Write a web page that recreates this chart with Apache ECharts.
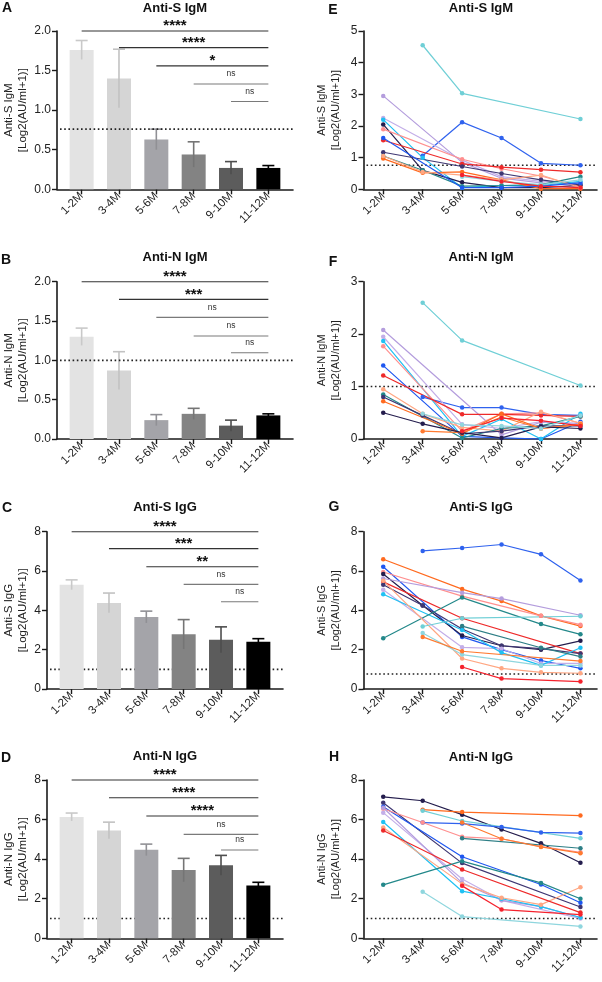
<!DOCTYPE html>
<html><head><meta charset="utf-8">
<script src="https://cdn.jsdelivr.net/npm/echarts@6/dist/echarts.min.js"></script>
<style>html,body{margin:0;padding:0;background:#fff}#c{width:602px;height:982px}</style>
</head><body><div id="c"></div>
<script>
// ---------------- DATA ----------------
const categories = ['1-2M','3-4M','5-6M','7-8M','9-10M','11-12M'];

// bar panels (mean, SEM)
const antiS_IgM_mean = [1.76,1.40,0.63,0.44,0.27,0.27];
const antiS_IgM_sem  = [0.12,0.37,0.13,0.16,0.08,0.03];
const antiN_IgM_mean = [1.30,0.87,0.24,0.32,0.17,0.30];
const antiN_IgM_sem  = [0.11,0.24,0.07,0.07,0.07,0.02];
const antiS_IgG_mean = [5.30,4.38,3.66,2.78,2.50,2.40];
const antiS_IgG_sem  = [0.25,0.50,0.30,0.75,0.66,0.16];
const antiN_IgG_mean = [6.13,5.45,4.47,3.45,3.69,2.67];
const antiN_IgG_sem  = [0.20,0.42,0.29,0.59,0.50,0.16];

// cutoff levels
const cutoffA = 0.76, cutoffB = 1.0, cutoffC = 1.0, cutoffD = 1.0;
const cutoffE = 0.76, cutoffF = 1.0, cutoffG = 0.76, cutoffH = 1.0;

// significance brackets (start group index -> last group), height, label
const bracketFrom = [0,1,2,3,4];
const bracketA_y = [2.0,1.79,1.56,1.33,1.11];
const bracketA_lab = ['****','****','*','ns','ns'];
const bracketB_y = [2.0,1.775,1.547,1.31,1.097];
const bracketB_lab = ['****','***','ns','ns','ns'];
const bracketC_y = [8.0,7.14,6.22,5.32,4.44];
const bracketC_lab = ['****','***','**','ns','ns'];
const bracketD_y = [8.0,7.10,6.18,5.25,4.46];
const bracketD_lab = ['****','****','****','ns','ns'];

// individual trajectories: [subjectIndex, values per category]
const linesE = [
  [0,[null,4.55,3.03,null,null,2.22]],
  [1,[null,1.06,2.12,1.62,0.82,0.76]],
  [2,[2.95,null,0.85,0.35,0.20,0.10]],
  [3,[2.25,null,0.92,0.40,0.25,0.20]],
  [4,[2.20,1.00,0.05,0.12,0.12,0.25]],
  [5,[2.05,0.60,0.22,0.05,0.05,0.12]],
  [6,[1.90,null,0.95,0.65,0.42,0.08]],
  [7,[1.55,null,0.80,0.70,0.62,0.54]],
  [8,[1.17,null,0.72,0.50,0.30,0.14]],
  [9,[1.05,0.60,0.10,0.12,0.15,0.40]],
  [10,[0.97,0.52,0.55,0.30,0.02,0.02]],
  [11,[1.05,0.55,0.45,0.30,0.45,0.05]],
  [12,[1.62,null,0.05,0.05,0.10,0.20]],
  [13,[null,null,0.40,0.25,0.15,0.30]],
  [15,[null,null,0.45,0.25,0.10,0.05]]
];
const linesF = [
  [0,[null,2.60,1.88,null,null,1.02]],
  [1,[null,0.80,0.60,0.60,0.47,0.45]],
  [12,[1.40,null,0.05,0.02,0.00,0.33]],
  [2,[2.08,null,null,0.08,0.32,0.30]],
  [3,[1.95,null,0.28,0.20,0.33,0.28]],
  [4,[1.87,null,0.05,0.38,0.00,0.48]],
  [6,[1.77,null,0.15,0.48,0.50,0.30]],
  [7,[1.21,null,0.47,0.47,0.45,0.43]],
  [11,[0.95,0.48,0.22,0.15,0.52,0.30]],
  [9,[0.85,null,0.02,0.20,0.25,0.43]],
  [8,[0.80,0.45,0.10,0.15,0.25,0.25]],
  [10,[0.72,null,0.10,0.48,0.20,0.28]],
  [14,[null,0.15,0.12,0.42,0.20,0.28]],
  [5,[0.50,0.29,0.12,0.02,0.23,0.20]],
  [15,[null,null,0.15,0.40,0.35,0.25]],
  [13,[null,0.48,0.27,0.25,0.20,0.45]]
];
const linesG = [
  [1,[null,7.02,7.17,7.35,6.85,5.52]],
  [10,[6.60,null,5.08,4.47,3.72,3.20]],
  [12,[6.22,null,2.65,2.00,1.45,1.05]],
  [6,[5.95,null,4.72,null,3.72,3.27]],
  [5,[5.85,4.25,2.72,2.20,2.00,2.45]],
  [2,[5.62,null,4.90,4.60,null,3.75]],
  [7,[5.45,null,3.60,null,null,1.80]],
  [8,[5.30,4.25,3.05,2.20,2.05,1.80]],
  [3,[5.05,null,2.12,2.05,1.30,1.30]],
  [4,[4.82,null,3.00,1.85,1.20,2.10]],
  [9,[2.58,null,4.65,null,3.30,2.78]],
  [11,[5.50,null,1.55,1.05,0.85,0.80]],
  [0,[null,3.18,3.60,null,null,3.70]],
  [13,[null,2.85,1.75,null,1.20,1.20]],
  [14,[null,2.65,1.92,null,null,1.42]],
  [15,[null,null,1.12,0.53,null,0.38]],
  [16,[null,null,3.20,null,2.10,1.65]]
];
const linesH = [
  [5,[7.15,6.95,6.25,5.50,4.80,3.82]],
  [10,[null,6.50,6.38,null,null,6.20]],
  [0,[null,6.45,5.93,null,null,5.05]],
  [1,[null,5.85,5.80,5.62,5.35,5.32]],
  [8,[6.85,null,3.80,null,null,1.58]],
  [12,[6.65,null,4.12,null,2.72,1.80]],
  [6,[6.55,5.85,5.13,5.03,4.63,4.35]],
  [3,[6.35,null,3.00,1.92,null,1.00]],
  [2,[6.60,null,2.80,1.92,1.60,1.05]],
  [4,[5.88,null,2.38,2.00,1.60,1.05]],
  [11,[5.60,null,2.75,2.05,1.70,2.58]],
  [7,[5.45,null,3.48,null,null,1.30]],
  [15,[null,null,2.65,1.45,null,1.20]],
  [9,[2.70,null,3.90,null,2.80,2.00]],
  [16,[null,null,5.05,null,null,4.55]],
  [14,[null,null,5.85,5.03,4.62,4.30]],
  [13,[null,2.35,1.10,null,null,0.60]]
];

// ---------------- STYLE ----------------
const FONT = 'Liberation Sans, Arial, Helvetica, sans-serif';
const INK = '#1a1a1a';
const barColors = ['#e3e3e3','#d5d5d5','#a4a4a9','#838383','#5c5c5c','#000000'];
const errColors = ['#c9c9c9','#c2c2c2','#909095','#757575','#4e4e4e','#000000'];
const subjectColors = ['#6fcfd6','#2f62ee','#b49ddd','#c3aee8','#1fc1f3','#241d4d','#ff8f8f','#ee2a2a',
  '#3e3672','#23888a','#ff6a1f','#ffa783','#1e57f0','#8fd6de','#ff7a30','#f5222d','#2e7f86'];

const grids = [
  {left:57, top:31, width:236, height:158.3},
  {left:57, top:281.7, width:236, height:157.3},
  {left:47, top:531.7, width:236, height:157.3},
  {left:47, top:780, width:236, height:158.3},
  {left:363.5, top:31, width:233.5, height:158.3},
  {left:363.5, top:281.7, width:233.5, height:157.3},
  {left:363.5, top:531.7, width:233.5, height:157.3},
  {left:363.5, top:780, width:233.5, height:158.3}
];
const tickIdx = categories.map((c,i)=>i);

function xAxisCfg(gi, min, max){
  return {type:'value', gridIndex:gi, min, max,
    axisLine:{show:true, onZero:false, lineStyle:{color:INK, width:1.6}},
    axisTick:{show:true, customValues:tickIdx, length:5, lineStyle:{color:INK, width:1.4}},
    axisLabel:{show:true, customValues:tickIdx, formatter:v=>categories[Math.round(v)], rotate:45,
      fontSize:11.5, color:'#222', margin:5, fontFamily:FONT},
    splitLine:{show:false}};
}
function yAxisCfg(gi, max, interval, name, gap, dec, nsize){
  return {type:'value', gridIndex:gi, min:0, max, interval, name, nameLocation:'middle', nameRotate:90, nameGap:gap,
    nameTextStyle:{fontSize:nsize, lineHeight:14.5, color:'#222', fontFamily:FONT},
    axisLine:{show:true, onZero:false, lineStyle:{color:INK, width:1.6}},
    axisTick:{show:true, length:5, lineStyle:{color:INK, width:1.4}},
    axisLabel:{fontSize:12, color:'#222', margin:6, fontFamily:FONT, formatter:v=>v.toFixed(dec)},
    splitLine:{show:false}};
}

const xAxes = [], yAxes = [], series = [];
const barSpecs = [
  [antiS_IgM_mean, antiS_IgM_sem, cutoffA, bracketA_y, bracketA_lab, 2.0, 0.5, 'Anti-S IgM', 1, 26, 9],
  [antiN_IgM_mean, antiN_IgM_sem, cutoffB, bracketB_y, bracketB_lab, 2.0, 0.5, 'Anti-N IgM', 1, 26, 9],
  [antiS_IgG_mean, antiS_IgG_sem, cutoffC, bracketC_y, bracketC_lab, 8, 2, 'Anti-S IgG', 0, 15, 1],
  [antiN_IgG_mean, antiN_IgG_sem, cutoffD, bracketD_y, bracketD_lab, 8, 2, 'Anti-N IgG', 0, 15, 1]
];
function cutoffSeries(gi, val, z){
  return {type:'custom', xAxisIndex:gi, yAxisIndex:gi, z, silent:true, animation:false, clip:false,
    data:[[0,val]],
    renderItem(params, api){
      const cs = params.coordSys;
      const p = api.coord([0, api.value(1)]);
      return {type:'line', shape:{x1:cs.x+3, y1:p[1], x2:cs.x+cs.width, y2:p[1]},
        style:{stroke:'#222', lineWidth:1.6, lineDash:[1.6,2.6]}};
    }};
}
barSpecs.forEach((s, gi)=>{
  const [mean, sem, cut, by, blab, ymax, yint, nm, dec, gap, cutZ] = s;
  xAxes.push(xAxisCfg(gi, -0.66, 5.66));
  yAxes.push(yAxisCfg(gi, ymax, yint, nm + '\n[Log2(AU/ml+1)]', gap, dec, 11.5));
  series.push({type:'bar', xAxisIndex:gi, yAxisIndex:gi, barWidth:24, animation:false, z:2,
    data: mean.map((v,i)=>({value:[i,v], itemStyle:{color:barColors[i]}}))});
  series.push({type:'custom', xAxisIndex:gi, yAxisIndex:gi, z:4, animation:false, clip:false,
    data: mean.map((v,i)=>[i,v,sem[i]]),
    renderItem(params, api){
      const x = api.value(0), m = api.value(1), e = api.value(2);
      const t = api.coord([x, m+e]), b = api.coord([x, m-e]);
      const col = errColors[params.dataIndex];
      return {type:'group', children:[
        {type:'line', shape:{x1:t[0], y1:t[1], x2:b[0], y2:b[1]}, style:{stroke:col, lineWidth:1.6}},
        {type:'line', shape:{x1:t[0]-6, y1:t[1], x2:t[0]+6, y2:t[1]}, style:{stroke:col, lineWidth:1.6}}
      ]};
    }});
  series.push(cutoffSeries(gi, cut, cutZ));
  series.push({type:'custom', xAxisIndex:gi, yAxisIndex:gi, z:5, animation:false, clip:false,
    data: bracketFrom.map((f,i)=>[f, by[i]]),
    renderItem(params, api){
      const f = api.value(0), y = api.value(1);
      const lab = blab[params.dataIndex];
      const p1 = api.coord([f, y]), p2 = api.coord([5, y]);
      const ns = lab === 'ns';
      const cx = (p1[0]+p2[0])/2;
      return {type:'group', children:[
        {type:'line', shape:{x1:p1[0], y1:p1[1], x2:p2[0], y2:p2[1]}, style:{stroke: ns ? '#7a7a7a' : '#333', lineWidth:1.1}},
        {type:'text', x:cx, y: ns ? p1[1]-10 : p1[1]-5,
          style:{text:lab, fill: ns ? '#333' : '#111', font: ns ? '8.5px ' + FONT : 'bold 15px ' + FONT,
            align:'center', verticalAlign:'middle', textAlign:'center', textVerticalAlign:'middle'}}
      ]};
    }});
});

const lineSpecs = [
  [linesE, cutoffE, 5, 1, 'Anti-S IgM'],
  [linesF, cutoffF, 3, 1, 'Anti-N IgM'],
  [linesG, cutoffG, 8, 2, 'Anti-S IgG'],
  [linesH, cutoffH, 8, 2, 'Anti-N IgG']
];
lineSpecs.forEach((s, k)=>{
  const gi = k + 4;
  const [lines, cut, ymax, yint, nm] = s;
  xAxes.push(xAxisCfg(gi, -0.5, 5.42));
  yAxes.push(yAxisCfg(gi, ymax, yint, nm + '\n[Log2(AU/ml+1)]', 20, 0, 11));
  series.push(cutoffSeries(gi, cut, 1));
  lines.forEach(([sid, vals])=>{
    const col = subjectColors[sid];
    series.push({type:'line', xAxisIndex:gi, yAxisIndex:gi, animation:false, silent:true, clip:false, z:3,
      data: vals.map((v,i)=> v==null ? null : [i,v]).filter(d=>d),
      symbol:'circle', symbolSize:4.5, showSymbol:true,
      lineStyle:{width:1.2, color:col}, itemStyle:{color:col}});
  });
});

// panel titles and letters
const titleTexts = ['Anti-S IgM','Anti-N IgM','Anti-S IgG','Anti-N IgG','Anti-S IgM','Anti-N IgM','Anti-S IgG','Anti-N IgG'];
const panelLetters = ['A','B','C','D','E','F','G','H'];
const titlePos = [[175,8],[175,257],[165,507],[165,756],[481,8],[481,257],[481,507],[481,757]];
const letterPos = [[7,8],[6,260],[7,508],[6,758],[333,10],[333,262],[334,507],[334,757]];
const graphics = [];
titleTexts.forEach((t,i)=>{
  graphics.push({type:'text', x:titlePos[i][0], y:titlePos[i][1], silent:true,
    style:{text:t, font:'bold 13px ' + FONT, fill:'#111', align:'center', verticalAlign:'middle', textAlign:'center', textVerticalAlign:'middle'}});
  graphics.push({type:'text', x:letterPos[i][0], y:letterPos[i][1], silent:true,
    style:{text:panelLetters[i], font:'bold 14px ' + FONT, fill:'#111', align:'center', verticalAlign:'middle', textAlign:'center', textVerticalAlign:'middle'}});
});

const chart = echarts.init(document.getElementById('c'), null, {renderer:'canvas'});
chart.setOption({
  backgroundColor:'#fff', animation:false,
  grid: grids.map(g=>Object.assign({containLabel:false}, g)),
  xAxis: xAxes, yAxis: yAxes, series, graphic: graphics
});
</script></body></html>
